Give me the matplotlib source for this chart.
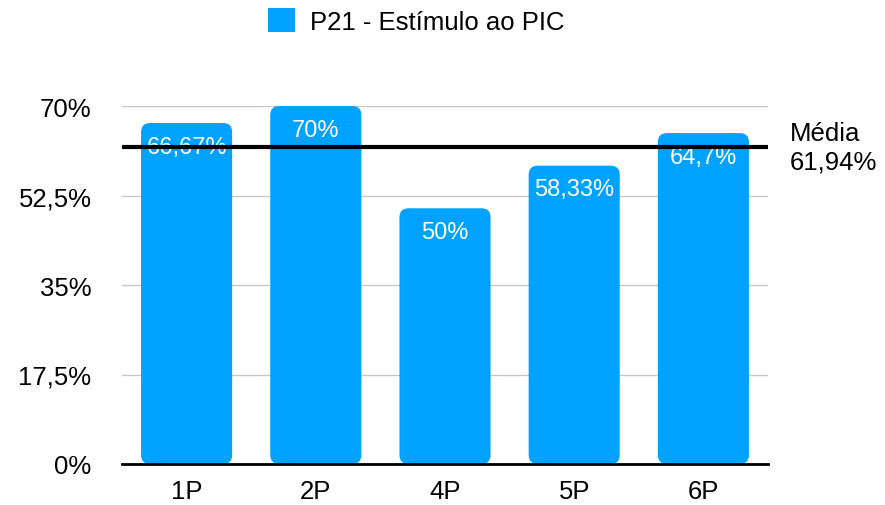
import matplotlib
matplotlib.use("Agg")
import matplotlib.pyplot as plt
from matplotlib.patches import FancyBboxPatch, Patch

plt.rcParams['font.family'] = ['Liberation Sans', 'DejaVu Sans']

categories = ["1P", "2P", "4P", "5P", "6P"]
values = [66.67, 70.0, 50.0, 58.33, 64.7]
value_labels = ["66,67%", "70%", "50%", "58,33%", "64,7%"]
mean_value = 61.94
mean_label = "Média\n61,94%"
series_name = "P21 - Estímulo ao PIC"
yticks = [0, 17.5, 35, 52.5, 70]
ytick_labels = ["0%", "17,5%", "35%", "52,5%", "70%"]

BLUE = "#00A2FF"
W, H = 885, 506
fig = plt.figure(figsize=(W / 100, H / 100), dpi=100)
ax = fig.add_axes([122 / W, 1 - 465 / H, (768 - 122) / W, (465 - 107) / H])
ax.set_xlim(-0.5, len(categories) - 0.5)
ax.set_ylim(0, 70)

x = list(range(len(categories)))
bars = ax.bar(x, values, width=0.705, color=BLUE, label=series_name, zorder=2)

# replace bars by rounded versions
fig.canvas.draw()
px_per_x = ax.transData.transform((1, 0))[0] - ax.transData.transform((0, 0))[0]
px_per_y = ax.transData.transform((0, 1))[1] - ax.transData.transform((0, 0))[1]
radius_px = 9
for b in bars:
    b.set_visible(False)
    rx = radius_px / px_per_x
    p = FancyBboxPatch((b.get_x(), b.get_y()), b.get_width(), b.get_height(),
                       boxstyle=f"round,pad=0,rounding_size={rx}",
                       mutation_aspect=px_per_x / px_per_y,
                       facecolor=BLUE, edgecolor="none", zorder=2)
    ax.add_patch(p)

for xi, v, lab in zip(x, values, value_labels):
    ax.annotate(lab, (xi, v), xytext=(0, -17), textcoords="offset points",
                ha="center", va="center", color="white", fontsize=17, zorder=3)

ax.set_yticks(yticks)
ax.set_yticklabels(ytick_labels)
ax.set_xticks(x)
ax.set_xticklabels(categories)
ax.tick_params(axis="both", length=0, labelsize=18.5, colors="black")
ax.tick_params(axis="y", pad=22)
ax.tick_params(axis="x", pad=11)
ax.grid(axis="y", color="#c8c8c8", linewidth=1, zorder=0)
ax.set_axisbelow(True)
for s in ["top", "right", "left"]:
    ax.spines[s].set_visible(False)
ax.spines["bottom"].set_linewidth(2)
ax.spines["bottom"].set_zorder(4)

ax.axhline(mean_value, color="black", linewidth=3, zorder=5)
ax.annotate(mean_label, (1, mean_value), xycoords=("axes fraction", "data"),
            xytext=(16, 0), textcoords="offset points", ha="left", va="center",
            fontsize=18.5, linespacing=1.25, annotation_clip=False)

fig.legend(handles=[Patch(facecolor=BLUE, label=series_name)], loc="center",
           bbox_to_anchor=(0.4706, 1 - 22 / H), frameon=False, fontsize=18.5,
           handlelength=1.05, handleheight=1.05, handletextpad=0.58)

fig.savefig("out.png", dpi=100)
